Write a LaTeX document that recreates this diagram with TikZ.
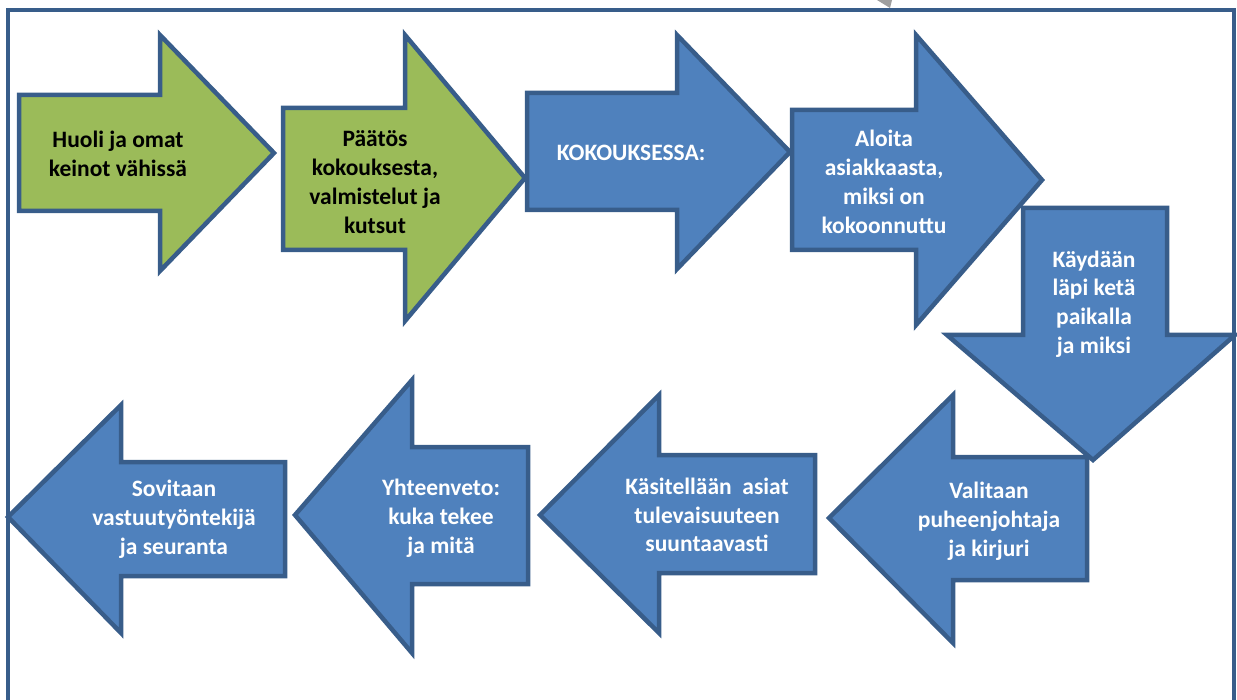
\documentclass[tikz,border=0pt]{standalone}
\usepackage{fontspec}
\setmainfont{Carlito}
\usetikzlibrary{positioning}

\definecolor{vihrea}{HTML}{9BBB59}
\definecolor{sininen}{HTML}{4F81BD}
\definecolor{reuna}{HTML}{385D8A}

\begin{document}
\begin{tikzpicture}[
    x = 1pt, y = -1pt,
    greenarrow/.style = {draw=reuna, fill=vihrea, line width=4.5pt},
    bluearrow/.style = {draw=reuna, fill=sininen, line width=4.5pt},
    lbl/.style = {align=center, inner sep=0pt, text=#1,
    font=\fontsize{23.5}{28.8}\selectfont\bfseries},
    lbl/.default = white
    ]
    \useasboundingbox (0,0) rectangle (1237,700);
    %
    \fill[gray!75] (877,0) -- (892,0) -- (890,8) -- cycle;
    \draw[reuna, line width=3.5pt] (8,700) -- (8,10) -- (1234,10) -- (1234,700);
    %
    % upper row, to the right
    \draw[greenarrow] (19,95) -- (160,95) -- (160,35) -- (274,153)
        -- (160,271) -- (160,211) -- (19,211) -- cycle;
    \node (huoli) [lbl=black] at (118,154) {Huoli ja omat\\keinot vähissä};
    \draw[greenarrow] (283,108) -- (405,108) -- (405,35) -- (525,178)
        -- (405,321) -- (405,250) -- (283,250) -- cycle;
    \node (paatos) [lbl=black] at (375,182) {Päätös\\kokouksesta,\\valmistelut ja\\kutsut};
    \draw[bluearrow] (527,93) -- (677,93) -- (677,35) -- (790,152)
        -- (677,269) -- (677,210) -- (527,210) -- cycle;
    \node (kokous) [lbl] at (631,153) {KOKOUKSESSA:};
    \draw[bluearrow] (792,110) -- (916,110) -- (916,35) -- (1042,180)
        -- (916,325) -- (916,250) -- (792,250) -- cycle;
    \node (aloita) [lbl] at (884,182) {Aloita\\asiakkaasta,\\miksi on\\kokoonnuttu};
    %
    % down
    \draw[bluearrow] (1023,208) -- (1167,208) -- (1167,335) -- (1235,335)
        -- (1093,460) -- (947,335) -- (1023,335) -- cycle;
    \node (kaydaan) [lbl] at (1094,304) {Käydään\\läpi ketä\\paikalla\\ja miksi};
    %
    % lower row, to the left
    \draw[bluearrow] (1087,457) -- (953,457) -- (953,395) -- (829,518)
        -- (953,643) -- (953,580) -- (1087,580) -- cycle;
    \node (valitaan) [lbl] at (989,521) {Valitaan\\puheenjohtaja\\ja kirjuri};
    \draw[bluearrow] (815,455) -- (659,455) -- (659,395) -- (540,515)
        -- (659,633) -- (659,573) -- (815,573) -- cycle;
    \node (kasitellaan) [lbl] at (707,515) {Käsitellään\ \ asiat\\tulevaisuuteen\\suuntaavasti};
    \draw[bluearrow] (528,447) -- (412,447) -- (412,380) -- (295,515)
        -- (412,653) -- (412,584) -- (528,584) -- cycle;
    \node (yhteenveto) [lbl] at (441,518) {Yhteenveto:\\kuka tekee\\ja mitä};
    \draw[bluearrow] (285,462) -- (121,462) -- (121,405) -- (8,517)
        -- (121,633) -- (121,576) -- (285,576) -- cycle;
    \node (sovitaan) [lbl] at (174,519) {Sovitaan\\vastuutyöntekijä\\ja seuranta};
\end{tikzpicture}
\end{document}
